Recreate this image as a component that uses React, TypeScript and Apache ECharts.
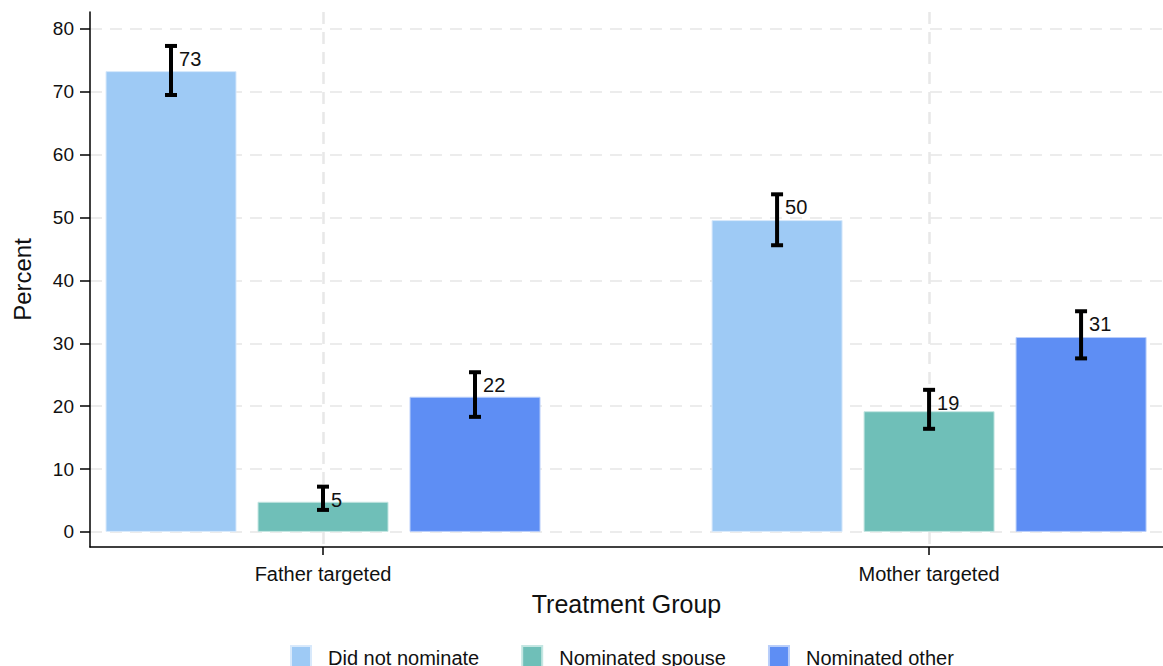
import React, { useEffect, useRef } from "react";
import * as echarts from "echarts";

const categories = ["Father targeted", "Mother targeted"];
const categoryPositions = [1, 2];
const seriesNames = ["Did not nominate", "Nominated spouse", "Nominated other"];
const seriesColors = ["#9ECAF5", "#6FBFB8", "#5E8EF4"];
const seriesBorders = ["#d8e9fb", "#c4e6e2", "#b9cefa"];

const didNotNominate = [73.3, 49.6];
const nominatedSpouse = [4.8, 19.2];
const nominatedOther = [21.5, 31.0];

const didNotNominateLow = [69.5, 45.6];
const didNotNominateHigh = [77.3, 53.7];
const nominatedSpouseLow = [3.5, 16.4];
const nominatedSpouseHigh = [7.2, 22.6];
const nominatedOtherLow = [18.3, 27.6];
const nominatedOtherHigh = [25.4, 35.1];

const yTicks = [0, 10, 20, 30, 40, 50, 60, 70, 80];

const FONT = "'Liberation Sans', Arial, sans-serif";
const BAR_WIDTH = 131;
const BAR_GAP_PX = 21;
const BAR_STEP = BAR_WIDTH + BAR_GAP_PX;

export default function App() {
  const ref = useRef<HTMLDivElement>(null);

  useEffect(() => {
    if (!ref.current) return;
    const chart = echarts.init(ref.current, null, { renderer: "svg" });

    const values = [didNotNominate, nominatedSpouse, nominatedOther];
    const lows = [didNotNominateLow, nominatedSpouseLow, nominatedOtherLow];
    const highs = [didNotNominateHigh, nominatedSpouseHigh, nominatedOtherHigh];

    const barSeries = seriesNames.map((name, s) => ({
      name,
      type: "bar",
      barWidth: BAR_WIDTH,
      barGap: ((BAR_GAP_PX / BAR_WIDTH) * 100).toFixed(2) + "%",
      itemStyle: {
        color: seriesColors[s],
        borderColor: seriesBorders[s],
        borderWidth: 1,
      },
      data: categoryPositions.map((p, i) => [p, values[s][i]]),
      z: 2,
    }));

    const errData: number[][] = [];
    seriesNames.forEach((_, s) => {
      categoryPositions.forEach((p, i) => {
        errData.push([p, s, lows[s][i], highs[s][i], values[s][i]]);
      });
    });

    const errorSeries = {
      type: "custom",
      name: "errors",
      z: 5,
      data: errData,
      encode: { x: 0, y: 3 },
      renderItem: (params: any, api: any) => {
        const x = api.value(0);
        const s = api.value(1);
        const lo = api.value(2);
        const hi = api.value(3);
        const v = api.value(4);
        const top = api.coord([x, hi]);
        const bot = api.coord([x, lo]);
        const cx = top[0] + (s - 1) * BAR_STEP;
        const capHalf = 6;
        const lineStyle = { stroke: "#000", lineWidth: 4 };
        return {
          type: "group",
          children: [
            { type: "line", shape: { x1: cx, y1: top[1], x2: cx, y2: bot[1] }, style: lineStyle },
            { type: "line", shape: { x1: cx - capHalf, y1: top[1], x2: cx + capHalf, y2: top[1] }, style: lineStyle },
            { type: "line", shape: { x1: cx - capHalf, y1: bot[1], x2: cx + capHalf, y2: bot[1] }, style: lineStyle },
            {
              type: "text",
              x: cx + 8,
              y: top[1] + 13,
              style: {
                text: String(Math.round(v)),
                fill: "#111",
                font: `20px ${FONT}`,
                textAlign: "left",
                textVerticalAlign: "middle",
              },
            },
          ],
        };
      },
    };

    chart.setOption({
      animation: false,
      backgroundColor: "#fff",
      textStyle: { fontFamily: FONT },
      grid: { left: 90, right: 0, top: 12, bottom: 119, containLabel: false },
      legend: {
        data: seriesNames,
        left: 285,
        top: 640,
        icon: "rect",
        itemWidth: 20,
        itemHeight: 24,
        itemGap: 42,
        textStyle: { fontSize: 20, color: "#111", fontFamily: FONT, padding: [0, 0, 0, 12] },
      },
      xAxis: {
        type: "value",
        min: 0.6155,
        max: 2.386,
        name: "Treatment Group",
        nameLocation: "middle",
        nameGap: 44,
        nameTextStyle: { fontSize: 25, color: "#111", fontFamily: FONT },
        axisLine: { show: true, onZero: false, lineStyle: { color: "#000", width: 1.5 } },
        axisTick: { show: true, length: 8, customValues: categoryPositions, lineStyle: { color: "#000", width: 1.5 } },
        axisLabel: {
          customValues: categoryPositions,
          formatter: (val: number) => {
            const idx = categoryPositions.indexOf(Math.round(val));
            return idx >= 0 ? categories[idx] : "";
          },
          fontSize: 20,
          color: "#111",
          margin: 17,
          fontFamily: FONT,
        },
        splitLine: { show: true, lineStyle: { color: "#e8e8e8", width: 2.5, type: [12, 8] } },
      },
      yAxis: {
        type: "value",
        min: -2.4,
        max: 82.7,
        name: "Percent",
        nameLocation: "middle",
        nameGap: 56,
        nameTextStyle: { fontSize: 24, color: "#111", fontFamily: FONT },
        axisLine: { show: true, onZero: false, lineStyle: { color: "#000", width: 1.5 } },
        axisTick: { show: true, length: 10, customValues: yTicks, lineStyle: { color: "#000", width: 1.5 } },
        axisLabel: { customValues: yTicks, fontSize: 19, color: "#111", margin: 16, fontFamily: FONT },
        splitLine: { show: true, lineStyle: { color: "#e6e6e6", width: 1.5, type: [12, 8] } },
      },
      series: [...barSeries, errorSeries],
    });

    return () => chart.dispose();
  }, []);

  return (
    <div
      ref={ref}
      style={{ position: "fixed", left: 0, top: 0, width: 1163, height: 666, background: "#fff" }}
    />
  );
}
